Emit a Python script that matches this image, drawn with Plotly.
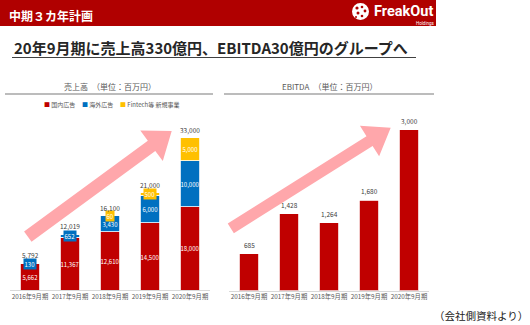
import math
import plotly.graph_objects as go

# ---------------- data ----------------
categories = ["2016年9月期", "2017年9月期", "2018年9月期", "2019年9月期", "2020年9月期"]
domestic = [5662, 11367, 12610, 14500, 18000]
overseas = [130, 652, 3430, 6000, 10000]
fintech = [0, 0, 60, 500, 5000]
sales_total = [5792, 12019, 16100, 21000, 33000]
ebitda = [685, 1428, 1264, 1680, 3000]
series_names = ["国内広告", "海外広告", "Fintech等 新規事業"]

# ---------------- styles ----------------
W, H = 530, 325
RED = "#C00000"
BLUE = "#0070C0"
YELLOW = "#FFC000"
PINK = "#FFA7AB"
HEADER = "#B00000"
GRAY_TXT = "#595959"
FONT = "Noto Sans CJK JP, Noto Sans, sans-serif"


def px(x):
    return x / W


def py(y):
    return 1 - y / H


fig = go.Figure()

colors = [RED, BLUE, YELLOW]
stack = [domestic, overseas, fintech]
for name, vals, col in zip(series_names, stack, colors):
    fig.add_trace(go.Bar(
        x=categories, y=vals, name=name, xaxis="x", yaxis="y",
        marker=dict(color=col, line=dict(color="white", width=0.8)),
        showlegend=False, hoverinfo="skip"))

fig.add_trace(go.Bar(
    x=categories, y=ebitda, name="EBITDA", xaxis="x2", yaxis="y2",
    marker=dict(color=RED, line=dict(color="white", width=0.8)),
    showlegend=False, hoverinfo="skip"))

annotations = []
# segment labels
bases = [0] * len(categories)
for vals, col in zip(stack, colors):
    for i, v in enumerate(vals):
        if v > 0:
            small = v < 1000
            annotations.append(dict(
                x=categories[i], y=bases[i] + v / 2, xref="x", yref="y",
                text=f"{v:,}", showarrow=False,
                font=dict(family=FONT, size=6, color="white"),
                bgcolor=col if small else "rgba(0,0,0,0)", borderpad=0.5))
        bases[i] += v
# totals
for c, t in zip(categories, sales_total):
    annotations.append(dict(
        x=c, y=t, xref="x", yref="y", text=f"{t:,}", showarrow=False,
        yanchor="bottom", yshift=1,
        font=dict(family=FONT, size=6.5, color="#404040")))
# ebitda labels
for c, v in zip(categories, ebitda):
    annotations.append(dict(
        x=c, y=v, xref="x2", yref="y2", text=f"{v:,}", showarrow=False,
        yanchor="bottom", yshift=2,
        font=dict(family=FONT, size=6.5, color="#404040")))

# header & titles
annotations += [
    dict(x=px(7), y=py(15), xref="paper", yref="paper", xanchor="left", yanchor="middle",
         text="<b>中期３カ年計画</b>", showarrow=False,
         font=dict(family=FONT, size=12, color="white")),
    dict(x=px(372), y=py(11.5), xref="paper", yref="paper", xanchor="left", yanchor="middle",
         text="<b>FreakOut</b>", showarrow=False,
         font=dict(family="Roboto, Liberation Sans, sans-serif", size=14.5, color="white")),
    dict(x=px(437), y=py(23.8), xref="paper", yref="paper", xanchor="right", yanchor="middle",
         text="Holdings", showarrow=False,
         font=dict(family="Roboto, sans-serif", size=4.5, color="white")),
    dict(x=px(12), y=py(48), xref="paper", yref="paper", xanchor="left", yanchor="middle",
         text="<b>20年9月期に売上高330億円、EBITDA30億円のグループへ</b>", showarrow=False,
         font=dict(family=FONT, size=15, color="#262626")),
    dict(x=px(110), y=py(86), xref="paper", yref="paper", xanchor="center", yanchor="middle",
         text="売上高　（単位：百万円）", showarrow=False,
         font=dict(family=FONT, size=8, color=GRAY_TXT)),
    dict(x=px(329), y=py(86), xref="paper", yref="paper", xanchor="center", yanchor="middle",
         text="EBITDA　（単位：百万円）", showarrow=False,
         font=dict(family=FONT, size=8, color=GRAY_TXT)),
    dict(x=px(530), y=py(315), xref="paper", yref="paper", xanchor="right", yanchor="middle",
         text="（会社側資料より）", showarrow=False,
         font=dict(family=FONT, size=10.5, color="#222222")),
]
# manual legend
for lx, name, col in zip([42, 80, 118], series_names, colors):
    annotations.append(dict(
        x=px(lx), y=py(105), xref="paper", yref="paper", xanchor="left", yanchor="middle",
        text=f'<span style="color:{col}">■</span> {name}', showarrow=False,
        font=dict(family=FONT, size=6, color=GRAY_TXT)))


def arrow_path(tail, tip, sw, hw, hl):
    dx, dy = tip[0] - tail[0], tip[1] - tail[1]
    L = math.hypot(dx, dy)
    ux, uy = dx / L, dy / L
    nx, ny = -uy, ux
    bx, by = tip[0] - ux * hl, tip[1] - uy * hl
    pts = [
        (tail[0] + nx * sw / 2, tail[1] + ny * sw / 2),
        (bx + nx * sw / 2, by + ny * sw / 2),
        (bx + nx * hw / 2, by + ny * hw / 2),
        tip,
        (bx - nx * hw / 2, by - ny * hw / 2),
        (bx - nx * sw / 2, by - ny * sw / 2),
        (tail[0] - nx * sw / 2, tail[1] - ny * sw / 2),
    ]
    s = "M " + " L ".join(f"{px(x):.5f},{py(y):.5f}" for x, y in pts) + " Z"
    return s


shapes = [
    dict(type="rect", xref="paper", yref="paper", x0=0, x1=px(436), y0=py(26), y1=1,
         fillcolor=HEADER, line=dict(width=0), layer="below"),
    dict(type="line", xref="paper", yref="paper", x0=px(12), x1=px(416), y0=py(57.5), y1=py(57.5),
         line=dict(color="#404040", width=1.2)),
    dict(type="line", xref="paper", yref="paper", x0=px(5), x1=px(213), y0=py(94), y1=py(94),
         line=dict(color="#A6A6A6", width=1.5)),
    dict(type="line", xref="paper", yref="paper", x0=px(224), x1=px(434), y0=py(94), y1=py(94),
         line=dict(color="#A6A6A6", width=1.5)),
    dict(type="path", xref="paper", yref="paper",
         path=arrow_path((27.8, 236.7), (171.7, 131), 12.6, 38, 25),
         fillcolor=PINK, line=dict(width=0), layer="below"),
    dict(type="path", xref="paper", yref="paper",
         path=arrow_path((230.8, 228.3), (390.7, 127.7), 11.5, 36, 25),
         fillcolor=PINK, line=dict(width=0), layer="below"),
    # logo icon
    dict(type="circle", xref="paper", yref="paper", x0=px(352), x1=px(369), y0=py(20), y1=py(3),
         fillcolor="white", line=dict(width=0)),
]
for cx, cy, r in [(357, 8, 1.6), (362, 7, 1.3), (365, 11, 1.4), (358, 13, 1.5), (362, 16, 1.3), (356, 17, 1.0)]:
    shapes.append(dict(type="circle", xref="paper", yref="paper",
                       x0=px(cx - r), x1=px(cx + r), y0=py(cy + r), y1=py(cy - r),
                       fillcolor=HEADER, line=dict(width=0)))

axis_common = dict(showline=True, linecolor="#D9D9D9", linewidth=1, ticks="",
                   tickfont=dict(family=FONT, size=6.3, color=GRAY_TXT),
                   showgrid=False, zeroline=False, fixedrange=True)

fig.update_layout(
    width=W, height=H, margin=dict(l=0, r=0, t=0, b=0),
    paper_bgcolor="white", plot_bgcolor="rgba(0,0,0,0)",
    barmode="stack", bargap=0.51,
    xaxis=dict(domain=[px(10), px(210)], anchor="y", **axis_common),
    yaxis=dict(domain=[py(290), py(120)], range=[0, max(sales_total) * 170 / 152.5],
               visible=False, fixedrange=True),
    xaxis2=dict(domain=[px(229), px(429)], anchor="y2", **axis_common),
    yaxis2=dict(domain=[py(290.5), py(120)], range=[0, max(ebitda) * 170.5 / 161],
                visible=False, fixedrange=True),
    annotations=annotations, shapes=shapes,
    showlegend=False,
)

fig.write_html("out.html")
